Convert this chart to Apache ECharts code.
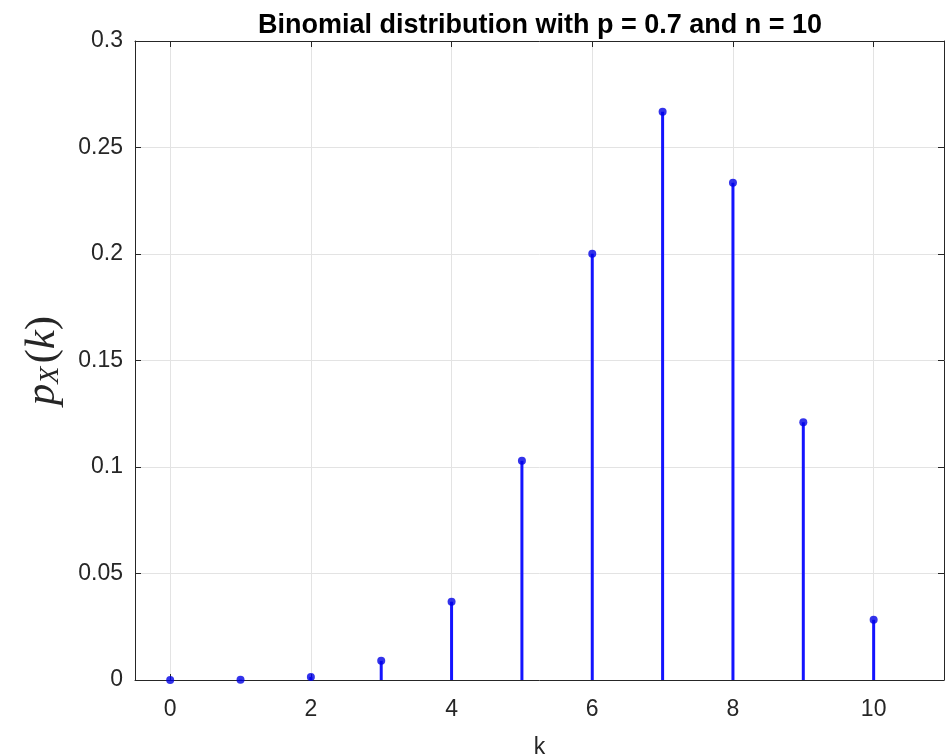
<!DOCTYPE html>
<html>
<head>
<meta charset="utf-8">
<script src="https://cdn.jsdelivr.net/npm/echarts@6/dist/echarts.min.js"></script>
<style>html,body{margin:0;padding:0;background:#fff;}#c{width:946px;height:756px;}</style>
</head>
<body>
<div id="c"></div>
<script>
var kValues = [0, 1, 2, 3, 4, 5, 6, 7, 8, 9, 10];
var pValues = [0.0000059, 0.000138, 0.001447, 0.009002, 0.036757, 0.102919, 0.200121, 0.266828, 0.233474, 0.121061, 0.028248];
var xTicks = [0, 2, 4, 6, 8, 10];
var titleText = 'Binomial distribution with p = 0.7 and n = 10';
var xLabel = 'k';

var points = kValues.map(function (k, i) { return [k, pValues[i]]; });
var axisColor = '#262626';
var gridColor = '#e3e3e3';
var labelFont = 'Liberation Sans';

var chart = echarts.init(document.getElementById('c'), null, { renderer: 'canvas' });
chart.setOption({
  animation: false,
  backgroundColor: '#ffffff',
  title: {
    text: titleText,
    left: 535, top: 7, textAlign: 'center',
    textStyle: { fontFamily: labelFont, fontWeight: 'bold', fontSize: 27, color: '#000' }
  },
  grid: { left: 135, top: 41, width: 809, height: 639, show: false, containLabel: false, outerBoundsMode: 'none' },
  xAxis: [{
    type: 'value', min: -0.5, max: 11,
    position: 'bottom',
    name: xLabel, nameLocation: 'middle', nameGap: 56,
    nameTextStyle: { fontFamily: labelFont, fontSize: 23, color: axisColor },
    axisLine: { show: true, onZero: false, lineStyle: { color: axisColor, width: 1 } },
    axisTick: { show: true, inside: true, length: 6, customValues: xTicks, lineStyle: { color: axisColor } },
    axisLabel: { customValues: xTicks, fontFamily: labelFont, fontSize: 23, color: axisColor, margin: 18 },
    splitLine: { show: true, lineStyle: { color: gridColor, width: 1 } }
  }, {
    type: 'value', min: -0.5, max: 11,
    position: 'top',
    axisLine: { show: true, onZero: false, lineStyle: { color: axisColor, width: 1 } },
    axisTick: { show: true, inside: true, length: 6, customValues: xTicks, lineStyle: { color: axisColor } },
    axisLabel: { show: false },
    splitLine: { show: false }
  }],
  yAxis: [{
    type: 'value', min: 0, max: 0.3, interval: 0.05,
    position: 'left',
    name: '{p|p}{s|X}{b|(}{p|k}{b|)}',
    nameLocation: 'middle', nameGap: 70,
    nameTextStyle: {
      rich: {
        p: { fontFamily: 'Liberation Serif', fontStyle: 'italic', fontSize: 43, color: axisColor },
        b: { fontFamily: 'Liberation Serif', fontSize: 43, color: axisColor },
        s: { fontFamily: 'Liberation Serif', fontStyle: 'italic', fontSize: 28, color: axisColor, verticalAlign: 'bottom', padding: [16, 3, 0, 0] }
      }
    },
    axisLine: { show: true, onZero: false, lineStyle: { color: axisColor, width: 1 } },
    axisTick: { show: true, inside: true, length: 6, lineStyle: { color: axisColor } },
    axisLabel: { fontFamily: labelFont, fontSize: 23, color: axisColor, margin: 12 },
    splitLine: { show: true, lineStyle: { color: gridColor, width: 1 } }
  }, {
    type: 'value', min: 0, max: 0.3, interval: 0.05,
    position: 'right',
    axisLine: { show: true, onZero: false, lineStyle: { color: axisColor, width: 1 } },
    axisTick: { show: true, inside: true, length: 6, lineStyle: { color: axisColor } },
    axisLabel: { show: false },
    splitLine: { show: false }
  }],
  series: [{
    type: 'bar',
    data: points,
    barWidth: 3,
    itemStyle: { color: '#1414ff' },
    silent: true
  }, {
    type: 'scatter',
    data: points,
    symbol: 'circle',
    symbolSize: 8,
    itemStyle: { color: '#0000e6' },
    silent: true
  }]
});
</script>
</body>
</html>
